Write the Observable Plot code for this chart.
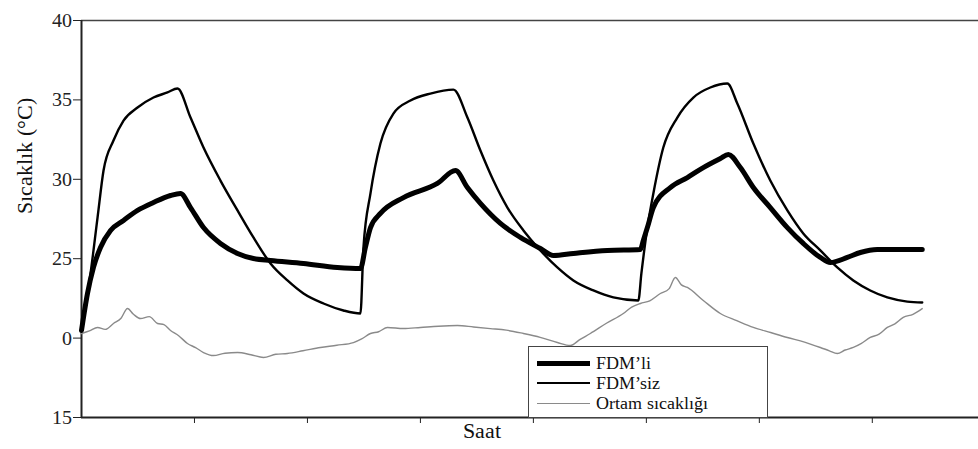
<!DOCTYPE html>
<html>
<head>
<meta charset="utf-8">
<style>
@font-face { font-family: "RefSerif"; src: local("Liberation Serif"), local("LiberationSerif"), local("LiberationSerif-Regular"); }
</style>
<script src="https://cdn.jsdelivr.net/npm/d3@7"></script>
<script src="https://cdn.jsdelivr.net/npm/@observablehq/plot@0.6"></script>
</head>
<body style="margin:0;padding:0;background:#fff">
<div id="wrap" style="position:relative;width:978px;height:449px"></div>
<script>
// ---- data (x: Saat / hours, y: °C) ----
const fdmliHours = [0,0.53,1.06,1.68,2.57,3.72,4.96,6.37,7.88,8.76,9.65,10.8,12.3,13.81,15.22,16.73,19.65,22.65,24.69,25.13,25.58,26.46,28.5,31.5,33.1,34.16,35.31,37.08,38.85,40.62,41.77,43.54,46.55,49.47,49.73,50.09,50.62,52.12,53.63,55.04,56.55,57.26,58.32,59.47,60.97,62.48,63.89,65.4,66.28,67.79,68.94,70.44,72.74,74.42];
const fdmliTemp  = [20.48,22.81,24.45,25.71,26.78,27.41,28.04,28.54,28.98,29.11,28.22,26.96,25.96,25.33,25.01,24.89,24.7,24.45,24.38,25.71,26.96,27.85,28.85,29.74,30.55,29.48,28.48,27.22,26.34,25.64,25.2,25.33,25.52,25.58,26.15,26.96,28.22,29.48,30.11,30.74,31.31,31.56,30.74,29.48,28.22,26.96,25.96,25.08,24.76,25.08,25.39,25.58,25.58,25.58];

const fdmsizHours = [0,0.8,1.42,1.95,2.83,3.72,4.96,6.37,7.61,8.5,9.65,10.8,12.3,13.81,15.22,16.73,18.23,19.65,21.42,23.19,24.69,24.96,25.58,26.46,27.61,29.12,30.88,32.92,34.16,35.31,36.46,37.7,39.12,40.62,42.12,43.54,45.31,47.08,49.29,49.56,50.09,50.62,51.5,52.74,54.16,55.66,57.17,58.05,59.47,60.97,62.48,63.89,65.4,66.9,68.32,69.82,71.33,73.1,74.42];
const fdmsizTemp  = [20.48,24.07,27.59,30.55,32.44,33.7,34.52,35.15,35.47,35.72,33.89,32.0,29.92,28.04,26.34,24.7,23.63,22.81,22.18,21.74,21.55,25.71,29.11,32.25,34.14,34.96,35.4,35.65,33.89,31.81,29.92,28.22,26.78,25.52,24.45,23.63,23.0,22.56,22.37,24.07,26.96,29.11,32.0,33.89,35.15,35.78,36.03,34.77,32.25,29.92,28.04,26.59,25.52,24.45,23.63,23.0,22.56,22.3,22.24];

const ortamHours = [0,0.7,1.42,2.1,2.83,3.5,4.07,4.6,5.22,6.0,6.73,7.3,7.88,8.6,9.38,10.1,10.8,11.68,12.7,13.81,15.0,16.11,17.2,18.23,19.6,21.15,22.6,24.07,24.8,25.58,26.3,27.08,28.5,30.0,31.6,33.27,34.7,36.19,37.6,39.12,40.6,42.12,43.27,44.1,45.04,46.5,47.96,48.7,49.47,50.3,51.24,52.0,52.57,53.1,53.63,55.04,56.55,58.0,59.47,61.0,62.48,64.0,65.4,66.2,66.9,67.6,68.32,69.0,69.82,70.6,71.33,72.0,72.74,73.6,74.42];
const ortamTemp  = [20.29,20.45,20.67,20.55,20.92,21.25,21.86,21.5,21.23,21.35,20.92,20.85,20.48,20.15,19.66,19.4,19.09,18.9,19.05,19.09,18.95,18.78,18.98,19.03,19.2,19.41,19.55,19.72,19.95,20.29,20.4,20.67,20.6,20.67,20.75,20.79,20.7,20.6,20.5,20.29,20.05,19.72,19.53,19.9,20.29,20.95,21.55,21.95,22.18,22.35,22.81,23.1,23.82,23.35,23.19,22.37,21.55,21.1,20.67,20.35,20.04,19.75,19.41,19.2,19.03,19.25,19.41,19.65,20.04,20.25,20.67,20.9,21.3,21.5,21.86];

const yTicks = [15, 20, 25, 30, 35, 40];
const yTickLabels = ["15", "0", "25", "30", "35", "40"];
const xTicks = [10, 20, 30, 40, 50, 60, 70];

const seriesNames = ["FDM\u2019li", "FDM\u2019siz", "Ortam s\u0131cakl\u0131\u011f\u0131"];
const seriesColors = ["#000", "#000", "#8a8a8a"];
const seriesWidths = [5, 2.4, 1.4];

const toRows = (hrs, vals) => hrs.map((h, i) => ({h, t: vals[i]}));
const fdmli = toRows(fdmliHours, fdmliTemp);
const fdmsiz = toRows(fdmsizHours, fdmsizTemp);
const ortam = toRows(ortamHours, ortamTemp);

const font = '"RefSerif", "Liberation Serif", monospace';

const chart = Plot.plot({
  width: 978,
  height: 449,
  marginLeft: 81,
  marginRight: 0,
  marginTop: 20,
  marginBottom: 32,
  style: {fontFamily: font, background: "#fff", color: "#222", overflow: "visible"},
  x: {domain: [0, 79.4]},
  y: {domain: [15, 40]},
  marks: [
    Plot.ruleY([40], {stroke: "#444", strokeWidth: 1.5}),
    Plot.ruleY([15], {stroke: "#222", strokeWidth: 2}),
    Plot.ruleX([0], {stroke: "#222", strokeWidth: 2}),
    Plot.axisY({ticks: yTicks, tickFormat: (d) => yTickLabels[yTicks.indexOf(d)], tickSize: 8, tickPadding: 2, fontSize: 20, label: null, stroke: "#222"}),
    Plot.axisX({ticks: xTicks, tickFormat: () => "", tickSize: 6, label: null, stroke: "#222"}),
    Plot.line(ortam, {x: "h", y: "t", stroke: seriesColors[2], strokeWidth: seriesWidths[2], strokeLinejoin: "round", curve: "monotone-x"}),
    Plot.line(fdmsiz, {x: "h", y: "t", stroke: seriesColors[1], strokeWidth: seriesWidths[1], strokeLinejoin: "round", curve: "monotone-x"}),
    Plot.line(fdmli, {x: "h", y: "t", stroke: seriesColors[0], strokeWidth: seriesWidths[0], strokeLinejoin: "round", curve: "monotone-x"}),
    Plot.text(["Saat"], {frameAnchor: "bottom", dx: -48, dy: 20, fontSize: 22, fill: "#111"}),
    Plot.text(["S\u0131cakl\u0131k (\u00b0C)"], {frameAnchor: "left", rotate: -90, dx: -57, dy: -5, fontSize: 22, fill: "#111"})
  ]
});

const wrap = document.getElementById("wrap");
wrap.appendChild(chart);

// legend overlay (HTML, over the plot area)
const legend = document.createElement("div");
Object.assign(legend.style, {position: "absolute", left: "528px", top: "346px", width: "240px", height: "72px",
  background: "#fff", border: "1.5px solid #444", boxSizing: "border-box", fontFamily: font});
seriesNames.forEach((name, i) => {
  const row = document.createElement("div");
  Object.assign(row.style, {position: "absolute", left: "0px", top: (6 + i * 20) + "px", height: "20px",
    display: "flex", alignItems: "center", whiteSpace: "nowrap"});
  const sw = document.createElement("span");
  Object.assign(sw.style, {display: "inline-block", width: "53px", marginLeft: "8px", marginRight: "6px",
    borderTop: seriesWidths[i] + "px solid " + seriesColors[i]});
  const lab = document.createElement("span");
  Object.assign(lab.style, {fontFamily: font, fontSize: "18px", color: "#111", lineHeight: "18px"});
  lab.textContent = name;
  row.appendChild(sw);
  row.appendChild(lab);
  legend.appendChild(row);
});
wrap.appendChild(legend);
</script>
</body>
</html>
